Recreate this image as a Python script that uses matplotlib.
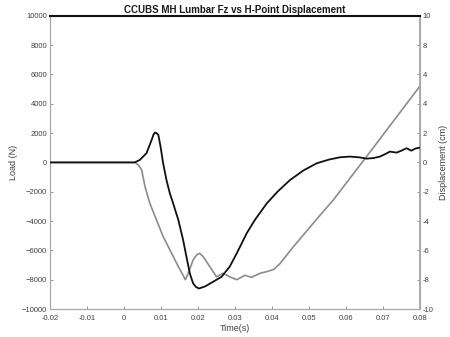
import matplotlib
matplotlib.use('Agg')
import matplotlib.pyplot as plt

plt.rcParams['font.family'] = ['Liberation Sans', 'DejaVu Sans']

# lumbar load (N), black curve
load_t = [-0.02, 0.0029, 0.0043, 0.0061, 0.0075, 0.0080, 0.0084, 0.0088, 0.0093, 0.0099,
          0.0106, 0.0115, 0.0124, 0.0133, 0.0147, 0.0160, 0.0169, 0.0178, 0.0187, 0.0195,
          0.0203, 0.0220, 0.0241, 0.0264, 0.0286, 0.0305, 0.0332, 0.0354, 0.0386, 0.0415,
          0.0449, 0.0485, 0.0521, 0.0555, 0.0584, 0.0611, 0.0635, 0.0656, 0.0675, 0.0692,
          0.0705, 0.0719, 0.0737, 0.075, 0.0764, 0.0777, 0.0788, 0.08]
load_n = [0, 0, 170, 630, 1540, 1900, 2040, 2000, 1880, 1080,
          -60, -1200, -2100, -2790, -3920, -5290, -6430, -7560, -8250, -8500,
          -8600, -8450, -8140, -7800, -7110, -6200, -4830, -3920, -2800, -2000,
          -1200, -550, -60, 200, 350, 400, 350, 260, 300, 400,
          550, 740, 670, 800, 970, 800, 950, 1010]

# H-point displacement (cm), gray curve
disp_t = [-0.02, 0.003, 0.0040, 0.0048, 0.0057, 0.0070, 0.0088, 0.0106, 0.0129, 0.0147,
          0.0160, 0.0166, 0.0174, 0.0187, 0.0197, 0.0205, 0.0215, 0.0232, 0.0250, 0.0268,
          0.0286, 0.0305, 0.0327, 0.0345, 0.0368, 0.0386, 0.0405, 0.0422, 0.0458, 0.0490,
          0.0520, 0.0566, 0.0611, 0.0656, 0.08]
disp_cm = [0, 0, -0.2, -0.51, -1.65, -2.79, -3.92, -5.06, -6.2, -7.1,
           -7.7, -8.0, -7.56, -6.65, -6.3, -6.2, -6.45, -7.1, -7.8, -7.56,
           -7.8, -8.0, -7.7, -7.84, -7.56, -7.45, -7.3, -6.9, -5.75, -4.8,
           -3.9, -2.56, -1.08, 0.4, 5.2]

x_ticks = [-0.02, -0.01, 0, 0.01, 0.02, 0.03, 0.04, 0.05, 0.06, 0.07, 0.08]
x_labels = ['-0.02', '-0.01', '0', '0.01', '0.02', '0.03', '0.04', '0.05', '0.06', '0.07', '0.08']
left_ticks = list(range(-10000, 10001, 2000))
right_ticks = list(range(-10, 11, 2))
right_labels = ['-10', '-8', '-6', '-4', '-2', '0', '2', '4', '4', '8', '10']

fig = plt.figure(figsize=(4.5, 3.37), dpi=100)
ax = fig.add_axes([0.111, 0.083, 0.822, 0.87])
ax2 = ax.twinx()

ax.plot(load_t, load_n, color='#111111', lw=1.3, zorder=3)
ax2.plot(disp_t, disp_cm, color='#8c8c8c', lw=1.2, zorder=2)
ax.set_zorder(ax2.get_zorder() + 1)
ax.patch.set_visible(False)

ax.set_xlim(-0.02, 0.08)
ax.set_ylim(-10000, 10000)
ax2.set_ylim(-10, 10)
ax.set_xticks(x_ticks)
ax.set_xticklabels(x_labels)
ax.set_yticks(left_ticks)
ax2.set_yticks(right_ticks)
ax2.set_yticklabels(right_labels)

tc = '#404040'
for a in (ax, ax2):
    a.tick_params(direction='in', length=2.5, width=0.6, labelsize=5.5,
                  colors='#888888', labelcolor=tc, pad=2)
    for s in a.spines.values():
        s.set_color('#a8a8a8')
        s.set_linewidth(0.8)
ax.tick_params(axis='x', pad=4)
ax2.spines['right'].set_linewidth(1.3)
ax.spines['top'].set_color('#111111')
ax.spines['top'].set_linewidth(1.5)
ax2.spines['top'].set_visible(False)

ax.set_xlabel('Time(s)', fontsize=6.5, color=tc, labelpad=2)
ax.set_ylabel('Load (N)', fontsize=6.5, color=tc, labelpad=3)
ax2.set_ylabel('Displacement (cm)', fontsize=6.5, color=tc, labelpad=4)
ax.set_title('CCUBS MH Lumbar Fz vs H-Point Displacement', fontsize=7,
             fontweight='bold', color='#1a1a1a', pad=2)

fig.savefig('out.png', dpi=100)
